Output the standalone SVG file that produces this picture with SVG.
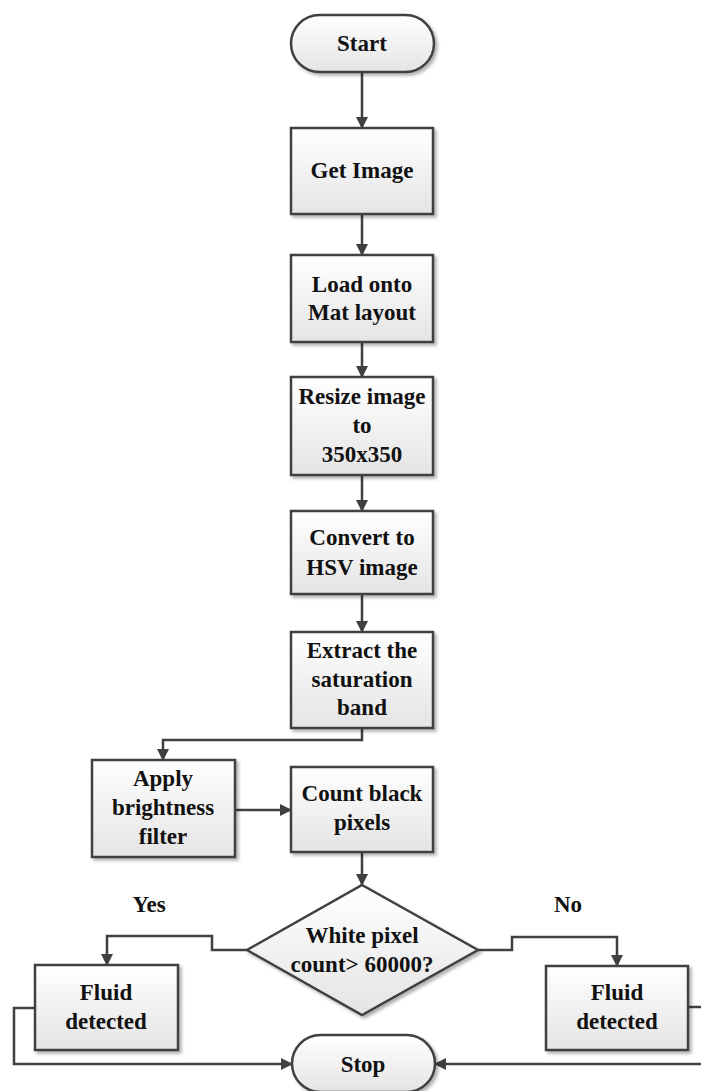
<svg xmlns="http://www.w3.org/2000/svg" width="701" height="1091" viewBox="0 0 701 1091">
<defs>
<linearGradient id="g" x1="0" y1="0" x2="0" y2="1">
<stop offset="0" stop-color="#ffffff"/>
<stop offset="1" stop-color="#e4e4e4"/>
</linearGradient>
<filter id="sh" x="-10%" y="-10%" width="130%" height="130%">
<feDropShadow dx="2.5" dy="2.5" stdDeviation="1.5" flood-color="#000" flood-opacity="0.3"/>
</filter>
<marker id="ar" markerWidth="12" markerHeight="12" refX="11" refY="6" orient="auto" markerUnits="userSpaceOnUse">
<path d="M0,0 L12,6 L0,12 Z" fill="#404040"/>
</marker>
<style>
.n{fill:url(#g);stroke:#404040;stroke-width:2.5;filter:url(#sh)}
.t{font-family:"Liberation Serif","Times New Roman",serif;font-weight:bold;font-size:23px;fill:#111;text-anchor:middle}
.c{fill:none;stroke:#404040;stroke-width:2.5;marker-end:url(#ar)}
.c2{fill:none;stroke:#404040;stroke-width:2.5}
</style>
</defs>
<rect width="701" height="1091" fill="#fff"/>
<g id="connectors">
<path class="c" d="M362,72 V128"/>
<path class="c" d="M362,214 V255"/>
<path class="c" d="M362,342 V377"/>
<path class="c" d="M362,475 V511"/>
<path class="c" d="M362,594 V632"/>
<path class="c" d="M362,728 V740 H163 V760"/>
<path class="c" d="M235,810 H291"/>
<path class="c" d="M362,852 V885"/>
<path class="c" d="M247,950 H212 V936 H107 V965"/>
<path class="c" d="M478,950 H512 V937 H617 V966"/>
<path class="c" d="M35,1008 H14 V1064 H292"/>
<path class="c" d="M688,1007 H710 V1064 H435"/>
</g>
<g id="start"><rect class="n" x="291" y="15" width="143" height="57" rx="28.5"/><text class="t" x="362" y="51">Start</text></g>
<g id="get-image"><rect class="n" x="291" y="128" width="142" height="86"/><text class="t" x="362" y="178">Get Image</text></g>
<g id="load"><rect class="n" x="291" y="255" width="142" height="87"/><text class="t" x="362" y="292">Load onto</text><text class="t" x="362" y="320">Mat layout</text></g>
<g id="resize"><rect class="n" x="291" y="377" width="142" height="98"/><text class="t" x="362" y="404">Resize image</text><text class="t" x="362" y="433">to</text><text class="t" x="362" y="462">350x350</text></g>
<g id="convert"><rect class="n" x="291" y="511" width="142" height="83"/><text class="t" x="362" y="545">Convert to</text><text class="t" x="362" y="575">HSV image</text></g>
<g id="extract"><rect class="n" x="291" y="632" width="142" height="96"/><text class="t" x="362" y="658">Extract the</text><text class="t" x="362" y="687">saturation</text><text class="t" x="362" y="715">band</text></g>
<g id="apply"><rect class="n" x="92" y="760" width="143" height="97"/><text class="t" x="163" y="786">Apply</text><text class="t" x="163" y="815">brightness</text><text class="t" x="163" y="844">filter</text></g>
<g id="count"><rect class="n" x="291" y="767" width="142" height="85"/><text class="t" x="362" y="801">Count black</text><text class="t" x="362" y="830">pixels</text></g>
<g id="decision"><path class="n" d="M362,885 L478,950 L362,1015 L247,950 Z"/><text class="t" x="362" y="943">White pixel</text><text class="t" x="362" y="972">count&gt; 60000?</text></g>
<g id="labels"><text class="t" x="149" y="912">Yes</text><text class="t" x="568" y="912">No</text></g>
<g id="fluid-yes"><rect class="n" x="35" y="965" width="143" height="85"/><text class="t" x="106" y="1000">Fluid</text><text class="t" x="106" y="1029">detected</text></g>
<g id="fluid-no"><rect class="n" x="546" y="966" width="142" height="84"/><text class="t" x="617" y="1000">Fluid</text><text class="t" x="617" y="1029">detected</text></g>
<g id="stop"><rect class="n" x="292" y="1035" width="143" height="57" rx="28.5"/><text class="t" x="363" y="1072">Stop</text></g>
</svg>
